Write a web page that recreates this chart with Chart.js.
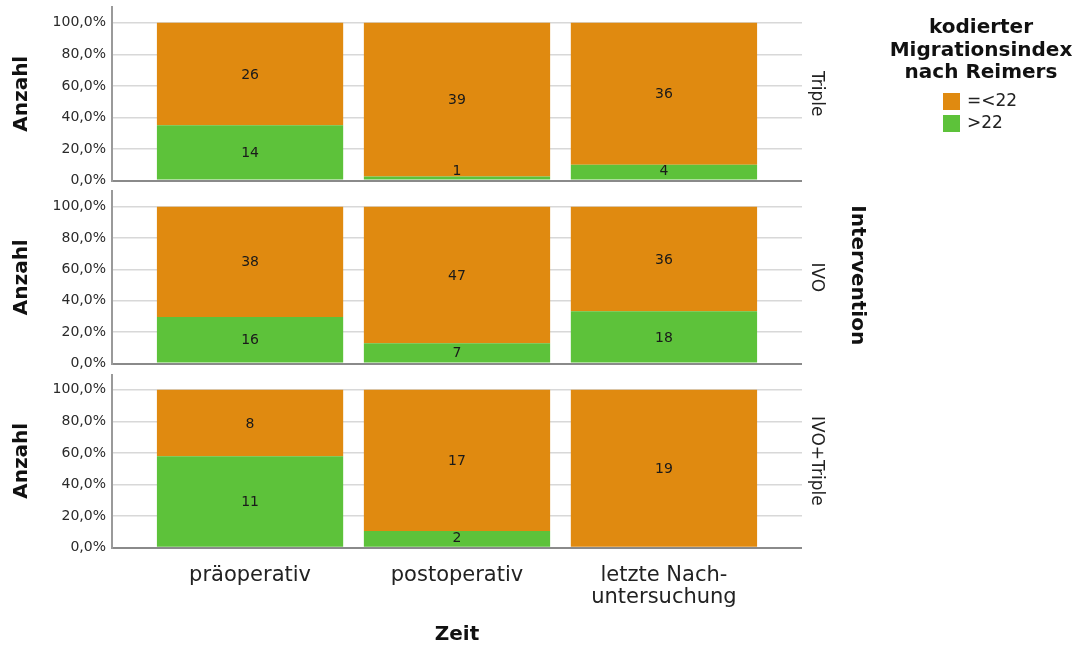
<!DOCTYPE html>
<html>
<head>
<meta charset="utf-8">
<script src="https://cdn.jsdelivr.net/npm/chart.js@4"></script>
<style>
  body { margin: 0; background: #fff; }
  #wrap { position: relative; width: 1080px; height: 648px; }
  #wrap canvas { position: absolute; left: 0; }
</style>
</head>
<body>
<div id="wrap">
  <canvas id="panel0" width="1080" height="190" style="top:0px"></canvas>
  <canvas id="panel1" width="1080" height="184" style="top:190px"></canvas>
  <canvas id="panel2" width="1080" height="274" style="top:374px"></canvas>
</div>
<script>
const zeitLabels = ['präoperativ', 'postoperativ', ['letzte Nach-', 'untersuchung']];
const gruppen = ['Triple', 'IVO', 'IVO+Triple'];
const serienNamen = ['=<22', '>22'];
// counts per group (rows) and time point (columns)
const bis22 = [[26, 39, 36], [38, 47, 36], [8, 17, 19]];
const ueber22 = [[14, 1, 4], [16, 7, 18], [11, 2, 0]];
const yTicks = [0, 20, 40, 60, 80, 100];

const orange = '#e08a10';
const green = '#5dc23a';
const fontName = 'DejaVu Sans';

// layout of the three stacked panels (padding of each canvas)
const pads = [
  { top: 7, bottom: 9.5 },
  { top: 1, bottom: 10.5 },
  { top: 0, bottom: 0 }
];

// counts written in the middle of every segment
const barLabels = {
  id: 'barLabels',
  afterDatasetsDraw(chart) {
    const ctx = chart.ctx;
    ctx.save();
    ctx.font = '14px ' + fontName;
    ctx.fillStyle = '#1a1a1a';
    ctx.textAlign = 'center';
    ctx.textBaseline = 'middle';
    chart.data.datasets.forEach((ds, d) => {
      chart.getDatasetMeta(d).data.forEach((bar, i) => {
        const n = ds.counts[i];
        if (!n) return;
        const top = Math.min(bar.y, bar.base);
        const bottom = Math.max(bar.y, bar.base);
        const y = Math.min((top + bottom) / 2 + 1, bottom - 8);
        ctx.fillText(n, bar.x, y);
      });
    });
    ctx.restore();
  }
};

// group name on the right side of each panel
const panelLabel = {
  id: 'panelLabel',
  afterDraw(chart, args, opts) {
    const ctx = chart.ctx;
    const area = chart.chartArea;
    ctx.save();
    ctx.translate(area.right + 14, (area.top + area.bottom) / 2);
    ctx.rotate(Math.PI / 2);
    ctx.font = '17px ' + fontName;
    ctx.fillStyle = '#222';
    ctx.textAlign = 'center';
    ctx.textBaseline = 'middle';
    ctx.fillText(opts.text, 0, 0);
    ctx.restore();
  }
};

// "Intervention" title next to the panel labels
const interventionTitle = {
  id: 'interventionTitle',
  afterDraw(chart) {
    const ctx = chart.ctx;
    const area = chart.chartArea;
    ctx.save();
    ctx.translate(857, (area.top + area.bottom) / 2 - 2);
    ctx.rotate(Math.PI / 2);
    ctx.font = 'bold 20px ' + fontName;
    ctx.fillStyle = '#111';
    ctx.textAlign = 'center';
    ctx.textBaseline = 'middle';
    ctx.fillText('Intervention', 0, 0);
    ctx.restore();
  }
};

// legend block in the top right corner
const legendBlock = {
  id: 'legendBlock',
  afterDraw(chart) {
    const ctx = chart.ctx;
    ctx.save();
    ctx.font = 'bold 20px ' + fontName;
    ctx.fillStyle = '#111';
    ctx.textAlign = 'center';
    ctx.textBaseline = 'alphabetic';
    ['kodierter', 'Migrationsindex', 'nach Reimers'].forEach((t, i) => {
      ctx.fillText(t, 981, 33 + i * 22.5);
    });
    const items = chart.data.datasets.slice().reverse();
    ctx.font = '17px ' + fontName;
    ctx.textAlign = 'left';
    ctx.textBaseline = 'middle';
    items.forEach((ds, i) => {
      const y = 93 + i * 22;
      ctx.fillStyle = ds.backgroundColor;
      ctx.fillRect(943, y, 17, 17);
      ctx.fillStyle = '#222';
      ctx.fillText(ds.label, 967, y + 9);
    });
    ctx.restore();
  }
};

function makePanel(p) {
  const total = bis22[p].map((v, i) => v + ueber22[p][i]);
  const isLast = p === gruppen.length - 1;
  const extra = [];
  if (p === 0) extra.push(legendBlock);
  if (p === 1) extra.push(interventionTitle);

  return new Chart(document.getElementById('panel' + p), {
    type: 'bar',
    data: {
      datasets: [
        {
          label: serienNamen[1],
          counts: ueber22[p],
          backgroundColor: green,
          data: ueber22[p].map((v, i) => ({ x: i, y: v / total[i] * 100 }))
        },
        {
          label: serienNamen[0],
          counts: bis22[p],
          backgroundColor: orange,
          data: bis22[p].map((v, i) => ({ x: i, y: v / total[i] * 100 }))
        }
      ]
    },
    options: {
      responsive: false,
      animation: false,
      layout: { padding: { top: pads[p].top, bottom: pads[p].bottom, left: 0, right: 278 } },
      datasets: { bar: { barPercentage: 0.9, categoryPercentage: 1 } },
      plugins: {
        legend: { display: false },
        tooltip: { enabled: false },
        panelLabel: { text: gruppen[p] }
      },
      scales: {
        x: {
          type: 'linear',
          min: -0.667,
          max: 2.667,
          offset: false,
          stacked: true,
          display: isLast,
          grid: { display: false, offset: false },
          border: { display: false },
          afterBuildTicks: s => { s.ticks = zeitLabels.map((_, i) => ({ value: i })); },
          afterFit: s => {
            s.paddingLeft = 0;
            s.paddingRight = 0;
            if (isLast) s.height = 100.3;
          },
          ticks: {
            autoSkip: false,
            maxRotation: 0,
            padding: 9,
            color: '#222',
            font: { family: fontName, size: 21, lineHeight: 1.05 },
            callback: v => zeitLabels[v]
          },
          title: {
            display: true,
            text: 'Zeit',
            color: '#111',
            padding: { top: 0, bottom: 1 },
            font: { family: fontName, size: 20, weight: 'bold' }
          }
        },
        y: {
          min: 0,
          max: 110,
          stacked: true,
          afterBuildTicks: s => { s.ticks = yTicks.map(v => ({ value: v })); },
          afterFit: s => {
            s.width = 112;
            s.paddingTop = 0;
            s.paddingBottom = 0;
          },
          grid: {
            drawTicks: false,
            color: c => c.tick && c.tick.value === 0 ? '#8a8a8a' : '#d8d8d8',
            lineWidth: c => c.tick && c.tick.value === 0 ? 2 : 1.5
          },
          border: { color: '#9a9a9a', width: 2 },
          ticks: {
            padding: 6,
            color: '#2a2a2a',
            font: { family: fontName, size: 14 },
            callback: v => v.toFixed(1).replace('.', ',') + '%'
          },
          title: {
            display: true,
            text: 'Anzahl',
            color: '#111',
            padding: { top: 10, bottom: 0 },
            font: { family: fontName, size: 20, weight: 'bold' }
          }
        }
      }
    },
    plugins: [barLabels, panelLabel].concat(extra)
  });
}

gruppen.forEach((g, p) => makePanel(p));
</script>
</body>
</html>
